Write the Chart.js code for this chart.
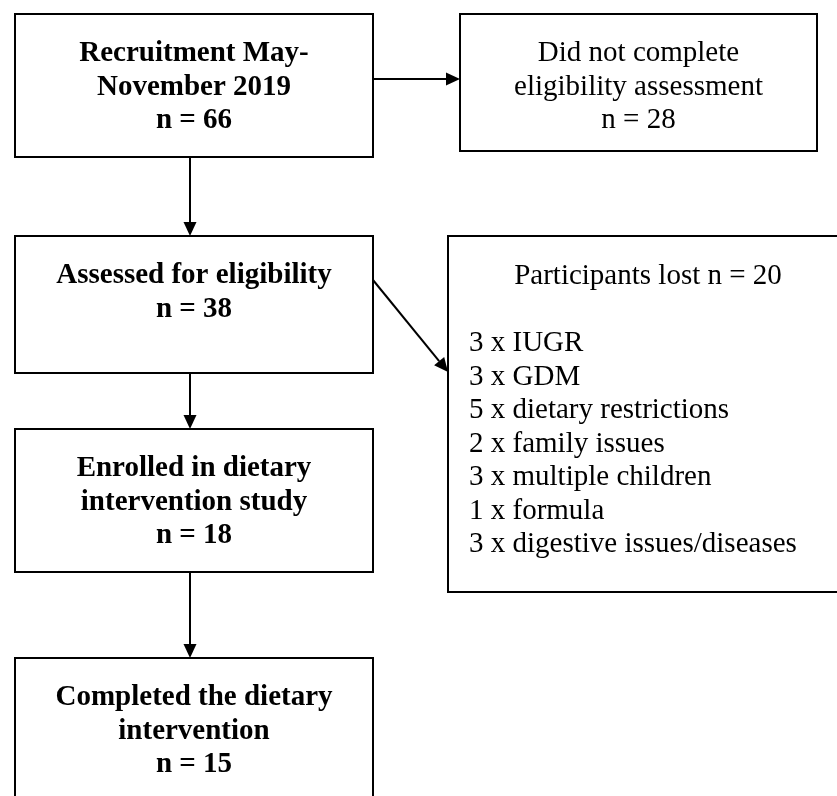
<!DOCTYPE html>
<html>
<head>
<meta charset="utf-8">
<script src="https://cdn.jsdelivr.net/npm/chart.js@4/dist/chart.umd.min.js"></script>
<style>
  html, body { margin: 0; padding: 0; background: #ffffff; }
  #wrap { width: 837px; height: 796px; position: relative; overflow: hidden; }
</style>
</head>
<body>
<div id="wrap"><canvas id="c" width="837" height="796"></canvas></div>
<script>
// ---- DATA ----
const stageTitles = [
  "Recruitment May-\nNovember 2019",
  "Assessed for eligibility",
  "Enrolled in dietary\nintervention study",
  "Completed the dietary\nintervention"
];
const stageCounts = [66, 38, 18, 15];
const exclusionTitles = ["Did not complete\neligibility assessment", "Participants lost"];
const exclusionCounts = [28, 20];
const lossReasons = ["IUGR", "GDM", "dietary restrictions", "family issues",
  "multiple children", "formula", "digestive issues/diseases"];
const lossCounts = [3, 3, 5, 2, 3, 1, 3];

// ---- LAYOUT (diagram units, mapped through the chart scales) ----
const stageBoxes = [
  { x0: 15, y0: 14,  x1: 373, y1: 157 },
  { x0: 15, y0: 236, x1: 373, y1: 373 },
  { x0: 15, y0: 429, x1: 373, y1: 572 },
  { x0: 15, y0: 658, x1: 373, y1: 810 }
];
const exclusionBoxes = [
  { x0: 460, y0: 14,  x1: 817, y1: 151 },
  { x0: 448, y0: 236, x1: 845, y1: 592 }
];
const firstBaselineOffset = 47;
const lineStep = 33.5;
const listIndent = 21;
const stageArrowX = 190;
const fontFamily = "'Liberation Serif', 'Times New Roman', Times, serif";
const fontSize = 29;

function stageLines(i) {
  return stageTitles[i].split("\n").concat(["n = " + stageCounts[i]]);
}
function exclusionLines(i) {
  if (i === 0) return exclusionTitles[0].split("\n").concat(["n = " + exclusionCounts[0]]);
  return [exclusionTitles[1] + " n = " + exclusionCounts[1]];
}

const flowPlugin = {
  id: "flow",
  afterDraw(chart) {
    const ctx = chart.ctx;
    const sx = chart.scales.x, sy = chart.scales.y;
    const X = v => sx.getPixelForValue(v);
    const Y = v => sy.getPixelForValue(v);
    ctx.save();
    ctx.strokeStyle = "#000";
    ctx.fillStyle = "#000";
    ctx.lineWidth = 2;

    function rect(b) {
      ctx.beginPath();
      ctx.rect(X(b.x0), Y(b.y0), X(b.x1) - X(b.x0), Y(b.y1) - Y(b.y0));
      ctx.stroke();
    }
    function arrow(xa, ya, xb, yb) {
      const x1 = X(xa), y1 = Y(ya), x2 = X(xb), y2 = Y(yb);
      const ang = Math.atan2(y2 - y1, x2 - x1);
      const len = 14, hw = 6.5;
      const bx = x2 - len * Math.cos(ang), by = y2 - len * Math.sin(ang);
      ctx.beginPath();
      ctx.moveTo(x1, y1);
      ctx.lineTo(bx, by);
      ctx.stroke();
      ctx.beginPath();
      ctx.moveTo(x2, y2);
      ctx.lineTo(bx + hw * Math.sin(ang), by - hw * Math.cos(ang));
      ctx.lineTo(bx - hw * Math.sin(ang), by + hw * Math.cos(ang));
      ctx.closePath();
      ctx.fill();
    }

    // boxes
    stageBoxes.forEach(rect);
    exclusionBoxes.forEach(rect);

    // arrows
    const b0 = stageBoxes[0], e0 = exclusionBoxes[0], b1 = stageBoxes[1], e1 = exclusionBoxes[1];
    arrow(b0.x1, 79, e0.x0, 79);
    for (let i = 0; i < stageBoxes.length - 1; i++) {
      arrow(stageArrowX, stageBoxes[i].y1, stageArrowX, stageBoxes[i + 1].y0);
    }
    arrow(b1.x1, 280, e1.x0, 372);

    // text
    ctx.textBaseline = "alphabetic";
    ctx.textAlign = "center";
    ctx.font = "bold " + fontSize + "px " + fontFamily;
    stageBoxes.forEach((b, i) => {
      const cx = X((b.x0 + b.x1) / 2);
      stageLines(i).forEach((t, k) => {
        ctx.fillText(t, cx, Y(b.y0 + firstBaselineOffset + k * lineStep));
      });
    });
    ctx.font = fontSize + "px " + fontFamily;
    // exclusion box 1
    {
      const b = exclusionBoxes[0];
      const cx = X((b.x0 + b.x1) / 2);
      exclusionLines(0).forEach((t, k) => {
        ctx.fillText(t, cx, Y(b.y0 + firstBaselineOffset + k * lineStep));
      });
    }
    // exclusion box 2
    {
      const b = exclusionBoxes[1];
      ctx.fillText(exclusionLines(1)[0], X(648), Y(b.y0 + 48));
      ctx.textAlign = "left";
      lossReasons.forEach((r, k) => {
        ctx.fillText(lossCounts[k] + " x " + r, X(b.x0 + listIndent), Y(b.y0 + 48 + (k + 2) * lineStep));
      });
    }
    ctx.restore();
  }
};

new Chart(document.getElementById("c"), {
  type: "scatter",
  data: {
    datasets: [{
      label: "stages",
      data: stageBoxes.map((b, i) => ({ x: (b.x0 + b.x1) / 2, y: (b.y0 + b.y1) / 2, n: stageCounts[i] })),
      pointRadius: 0,
      showLine: false
    }]
  },
  options: {
    responsive: false,
    animation: false,
    devicePixelRatio: 1,
    layout: { padding: 0 },
    plugins: { legend: { display: false }, tooltip: { enabled: false }, title: { display: false } },
    scales: {
      x: { type: "linear", min: 0, max: 837, display: false },
      y: { type: "linear", min: 0, max: 796, reverse: true, display: false }
    }
  },
  plugins: [flowPlugin]
});
</script>
</body>
</html>
